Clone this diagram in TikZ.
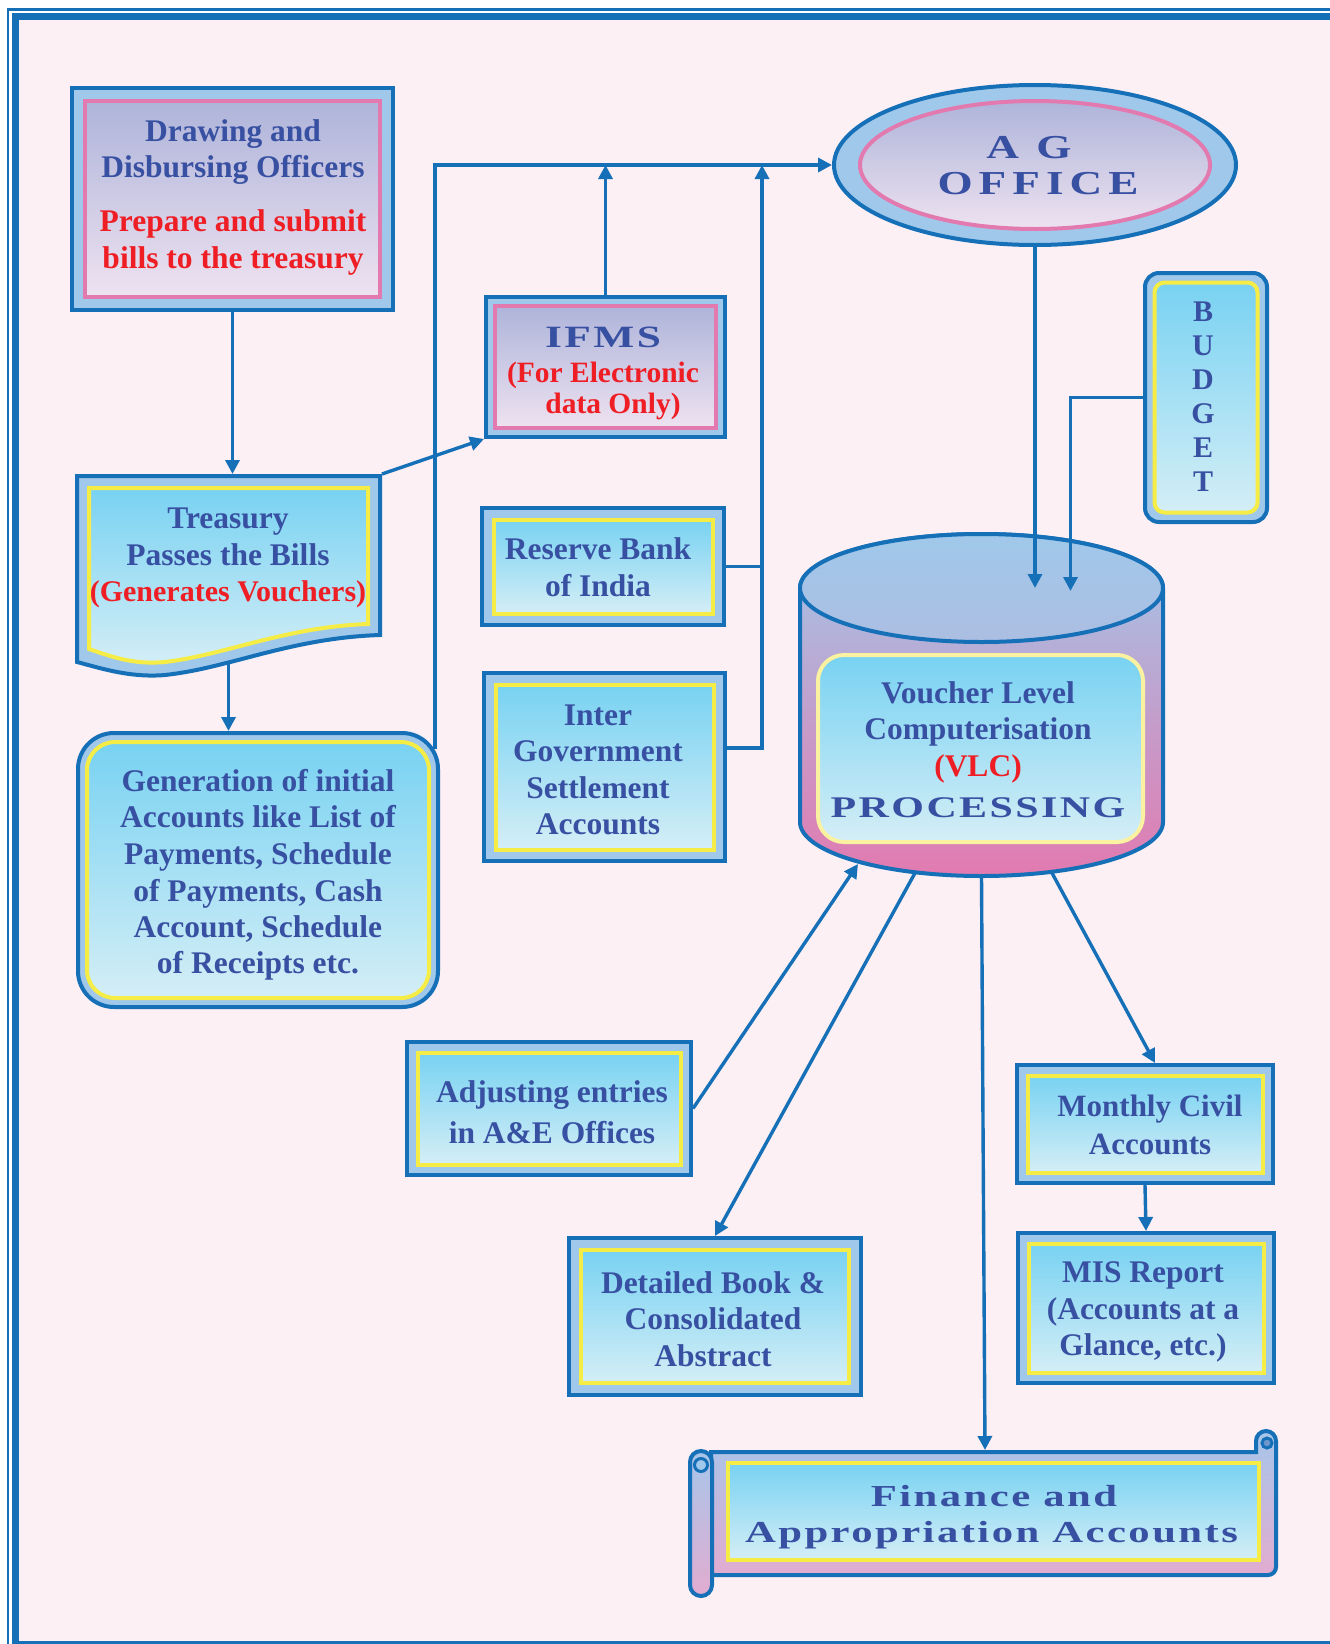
\documentclass[tikz,border=0pt]{standalone}
\usepackage{fontspec}
\setmainfont{Liberation Serif}
\newfontfamily\widefont{Liberation Serif}[FakeStretch=1.4,LetterSpace=8]
\newfontfamily\wideag{Liberation Serif}[FakeStretch=1.35,LetterSpace=18]
\usetikzlibrary{arrows.meta,shapes.geometric,calc}
\definecolor{frameblue}{RGB}{22,112,184}
\definecolor{band}{RGB}{160,200,234}
\definecolor{pinkb}{RGB}{226,122,176}
\definecolor{lavtop}{RGB}{174,180,218}
\definecolor{lavbot}{RGB}{238,226,240}
\definecolor{yel}{RGB}{246,236,70}
\definecolor{cyantop}{RGB}{120,210,242}
\definecolor{cyanbot}{RGB}{212,238,246}
\definecolor{txtblue}{RGB}{56,80,162}
\definecolor{txtred}{RGB}{238,30,36}
\definecolor{bgpink}{RGB}{252,240,244}
\definecolor{cylmid}{RGB}{194,174,214}
\definecolor{cylpink}{RGB}{226,122,176}
\definecolor{cyltopb}{RGB}{172,190,226}
\definecolor{paleyel}{RGB}{250,242,160}
\definecolor{scrtop}{RGB}{166,198,234}
\definecolor{scrbot}{RGB}{226,172,208}
\definecolor{curlc}{RGB}{110,150,205}
\newcommand\inbox[3]{\draw[#3] ([shift={(#2pt,-#2pt)}]#1.north west) rectangle ([shift={(-#2pt,#2pt)}]#1.south east);}
\tikzset{
  box/.style={rectangle, draw=frameblue, line width=4pt, fill=band, inner sep=0pt},
  ghost/.style={rectangle, inner sep=0pt, outer sep=0pt},
  conn/.style={draw=frameblue, line width=3.4pt},
  arr/.style={conn, -{Triangle[length=14pt,width=14pt]}},
  pinkin/.style={draw=pinkb, line width=4pt, top color=lavtop, bottom color=lavbot},
  yelin/.style={draw=yel, line width=4pt, top color=cyantop, bottom color=cyanbot},
  txt/.style={inner sep=0pt, align=center, text=txtblue, font=\fontsize{31.5}{36.5}\selectfont\bfseries},
  wtxt/.style={inner sep=0pt, anchor=base, text=txtblue, font=\widefont\fontsize{31}{36}\selectfont\bfseries},
  agtxt/.style={inner sep=0pt, anchor=base, text=txtblue, font=\wideag\fontsize{33.5}{36}\selectfont\bfseries},
}
\begin{document}
\begin{tikzpicture}[x=1pt,y=-1pt]
\useasboundingbox (0,0) rectangle (1330,1644);
% page and frame
\fill[white] (0,0) rectangle (1330,1644);
\fill[bgpink] (15,16) rectangle (1340,1650);
\draw[frameblue, line width=6.5pt] (1340,16.3) -- (15.5,16.3) -- (15.5,1644) -- (1340,1644);
\draw[frameblue, line width=2.2pt] (1340,9.5) -- (7.7,9.5) -- (7.7,1660);

% Drawing and Disbursing Officers
\node[box, minimum width=321pt, minimum height=222pt] (ddo) at (232.5,199) {};
\inbox{ddo}{15}{pinkin}
% IFMS
\node[box, minimum width=239pt, minimum height=140pt] (ifms) at (605.5,367) {};
\inbox{ifms}{11}{pinkin}
% AG office
\node[ellipse, draw=frameblue, line width=4pt, fill=band, inner sep=0pt, minimum width=402pt, minimum height=160pt] (ag) at (1035,165) {};
\draw[pinkb, line width=4pt, top color=lavtop, bottom color=lavbot] (ag.center) ellipse [x radius=175pt, y radius=64pt];
% Budget
\node[box, rounded corners=14pt, minimum width=122pt, minimum height=249pt] (bud) at (1206,397.5) {};
\inbox{bud}{11.5}{yelin, rounded corners=10pt}
% Treasury (document shape)
\node[ghost, minimum width=307pt, minimum height=190pt] (tre) at (228.5,569) {};
\draw[frameblue, line width=4pt, fill=band] (77,476) -- (380,476) -- (380,635) .. controls (290,638) and (230,668) .. (165,675) .. controls (130,678) and (100,668) .. (77,662) -- cycle;
\draw[yelin] (89,488) -- (368,488) -- (368,624) .. controls (285,627) and (225,655) .. (165,662) .. controls (132,665) and (110,656) .. (89,649) -- cycle;
% Generation of initial accounts
\node[box, rounded corners=36pt, minimum width=360pt, minimum height=274pt] (gen) at (258,870) {};
\inbox{gen}{11}{yelin, rounded corners=28pt}
% RBI
\node[box, minimum width=242pt, minimum height=117pt] (rbi) at (603,566.5) {};
\inbox{rbi}{13.5}{yelin}
% Inter Government Settlement Accounts
\node[box, minimum width=241pt, minimum height=188pt] (igsa) at (604.5,767) {};
\inbox{igsa}{13.5}{yelin}
% Cylinder (VLC)
\draw[frameblue, line width=4pt, top color=band, middle color=cylmid, bottom color=cylpink]
  (800,588) -- (800,822) arc[start angle=180, end angle=360, x radius=181.5pt, y radius=54pt]
  -- (1163,588) arc[start angle=0, end angle=180, x radius=181.5pt, y radius=54pt] -- cycle;
\draw[frameblue, line width=4pt, top color=band, bottom color=cyltopb] (981.5,588) ellipse [x radius=181.5pt, y radius=54pt];
\node[draw=paleyel, line width=4pt, rounded corners=26pt, top color=cyantop, bottom color=cyanbot, inner sep=0pt, minimum width=325pt, minimum height=187pt] (vlc) at (980.5,748.5) {};
\coordinate (cyltop) at (981.5,588);
\coordinate (cylAdj) at (858,864);
\coordinate (cylDet) at (915,873);
\coordinate (cylFin) at (981.5,876);
\coordinate (cylMon) at (1052,873);
% Adjusting entries
\node[box, minimum width=284pt, minimum height=133pt] (adj) at (549,1108.5) {};
\inbox{adj}{12.5}{yelin}
% Detailed book
\node[box, minimum width=292pt, minimum height=157pt] (det) at (715,1316.5) {};
\inbox{det}{14}{yelin}
% Monthly civil accounts
\node[box, minimum width=256pt, minimum height=118pt] (mon) at (1145,1124) {};
\inbox{mon}{12.5}{yelin}
% MIS report
\node[box, minimum width=256pt, minimum height=150pt] (mis) at (1146,1308) {};
\inbox{mis}{12.5}{yelin}
% Finance and Appropriation Accounts (scroll)
\node[ghost, minimum width=567pt, minimum height=127pt] (fin) at (994.5,1513.5) {};
\draw[frameblue, line width=4pt, top color=scrtop, bottom color=scrbot]
  (711,1452) -- (1256,1452) -- (1256,1441) arc[start angle=180, end angle=0, radius=10pt]
  -- (1276,1567) arc[start angle=0, end angle=-90, radius=8pt] -- (711,1575) -- cycle;
\draw[frameblue, line width=3pt, fill=curlc] (1267,1443) circle[radius=5pt];
\draw[frameblue, line width=4pt, top color=scrtop, bottom color=scrbot]
  (690,1462) -- (690,1585) arc[start angle=180, end angle=360, radius=11pt]
  -- (712,1462) arc[start angle=0, end angle=180, radius=11pt] -- cycle;
\draw[frameblue, line width=3pt, fill=band] (701,1465) circle[radius=6.5pt];
\draw[yelin] (728,1463) rectangle (1259,1560);

% connectors
\coordinate (busx) at (762,165);
\draw[arr] (ddo.south) -- (ddo.south |- tre.north);
\draw[arr] (tre.south) -- (tre.south |- gen.north);
\draw[arr] (tre.north east) -- (ifms.south west);
\draw[arr] (ifms.north) -- (ifms.north |- ag.west);
\draw[arr] ([shift={(-5pt,-18pt)}]gen.north east) |- (ag.west);
\draw[conn] (rbi.east) -- (rbi.east -| busx);
\draw[arr] ([yshift=19pt]igsa.east) -| (busx);
\draw[arr] (ag.south) -- (ag.south |- cyltop);
\draw[arr] (bud.west) -| ($(cyltop)+(89,3)$);
\draw[arr] (adj.east) -- (cylAdj);
\draw[arr] (cylDet) -- (det.north);
\draw[arr] (cylFin) -- ([xshift=-9.5pt]fin.north);
\draw[arr] (cylMon) -- ([xshift=10pt]mon.north);
\draw[arr] (mon.south) -- (mis.north);

% texts
\node[txt] (ddoT) at (233,197) {Drawing and\\Disbursing Officers\\[17.5pt]\textcolor{txtred}{Prepare and submit}\\\textcolor{txtred}{bills to the treasury}};
\node[wtxt] (ifmsT) at (603,347) {IFMS};
\node[txt, text=txtred, font=\fontsize{29.5}{31.5}\selectfont\bfseries] (ifmsT2) at (603,391) {(For Electronic\\\hspace*{20pt}data Only)};
\node[agtxt] (agT1) at (1029,158) {A G};
\node[agtxt] (agT2) at (1038,194) {OFFICE};
\node[txt] (treT) at (228,558) {Treasury\\Passes the Bills\\\textcolor{txtred}{\fontsize{30}{36.5}\selectfont(Generates Vouchers)}};
\node[txt] (genT) at (258,875) {Generation of initial\\Accounts like List of\\Payments, Schedule\\of Payments, Cash\\Account, Schedule\\of Receipts etc.};
\node[txt] (rbiT) at (598,567) {Reserve Bank\\of India};
\node[txt] (igsaT) at (598,770) {Inter\\Government\\Settlement\\Accounts};
\node[txt] (vlcT) at (978,732) {Voucher Level\\Computerisation\\\textcolor{txtred}{(VLC)}};
\node[wtxt, font=\widefont\fontsize{30}{36}\selectfont\bfseries] (vlcT2) at (978,817) {PROCESSING};
\node[txt, font=\fontsize{30}{34}\selectfont\bfseries] (budT) at (1203,397) {B\\U\\D\\G\\E\\T};
\node[txt, font=\fontsize{31.5}{41}\selectfont\bfseries] (adjT) at (552,1112) {Adjusting entries\\in A\&E Offices};
\node[txt] (detT) at (713,1319) {Detailed Book \&\\Consolidated\\Abstract};
\node[txt, font=\fontsize{31}{38}\selectfont\bfseries] (monT) at (1150,1125) {Monthly Civil\\Accounts};
\node[txt] (misT) at (1143,1312) {MIS Report\\(Accounts at a\\Glance, etc.)};
\node[wtxt, font=\widefont\fontsize{30.5}{36}\selectfont\bfseries] (finT1) at (994,1506) {Finance and};
\node[wtxt, font=\widefont\fontsize{30.5}{36}\selectfont\bfseries] (finT2) at (991.5,1542) {Appropriation Accounts};
\end{tikzpicture}
\end{document}
